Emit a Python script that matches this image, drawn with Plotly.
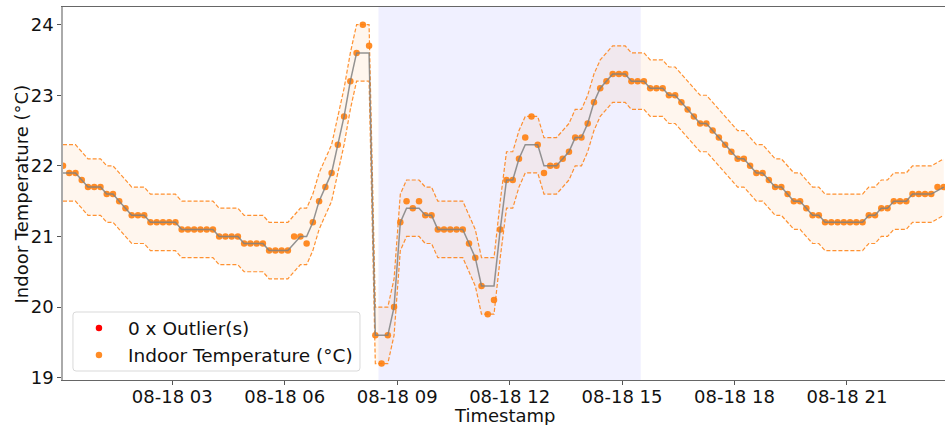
import pandas as pd
import plotly.graph_objects as go

# Indoor temperature readings on 18 Aug, one every 10 minutes from 00:05
start_time = "2024-08-18 00:05"
step_minutes = 10
temperature = [
    22.0, 21.9, 21.9, 21.8, 21.7, 21.7, 21.7, 21.6, 21.6, 21.5,
    21.4, 21.3, 21.3, 21.3, 21.2, 21.2, 21.2, 21.2, 21.2, 21.1,
    21.1, 21.1, 21.1, 21.1, 21.1, 21.0, 21.0, 21.0, 21.0, 20.9,
    20.9, 20.9, 20.9, 20.8, 20.8, 20.8, 20.8, 21.0, 21.0, 20.9,
    21.2, 21.5, 21.7, 21.9, 22.3, 22.7, 23.2, 23.6, 24.0, 23.7,
    19.6, 19.2, 19.6, 20.0, 21.2, 21.5, 21.4, 21.5, 21.3, 21.3,
    21.1, 21.1, 21.1, 21.1, 21.1, 20.9, 20.7, 20.3, 19.9, 20.1,
    21.1, 21.8, 21.8, 22.1, 22.4, 22.7, 22.3, 21.9, 22.0, 22.0,
    22.1, 22.2, 22.4, 22.4, 22.6, 22.9, 23.1, 23.2, 23.3, 23.3,
    23.3, 23.2, 23.2, 23.2, 23.1, 23.1, 23.1, 23.0, 23.0, 22.9,
    22.8, 22.7, 22.6, 22.6, 22.5, 22.4, 22.3, 22.2, 22.1, 22.1,
    22.0, 21.9, 21.9, 21.8, 21.7, 21.7, 21.6, 21.5, 21.5, 21.4,
    21.3, 21.3, 21.2, 21.2, 21.2, 21.2, 21.2, 21.2, 21.2, 21.3,
    21.3, 21.4, 21.4, 21.5, 21.5, 21.5, 21.6, 21.6, 21.6, 21.6,
    21.7, 21.7,
]

# Outlier detection settings: centred rolling median with a fixed tolerance
window = 5
tolerance = 0.4

# Highlighted period of the day
span_start = "2024-08-18 08:30"
span_end = "2024-08-18 15:30"

tick_times = ["2024-08-18 03:00", "2024-08-18 06:00", "2024-08-18 09:00",
              "2024-08-18 12:00", "2024-08-18 15:00", "2024-08-18 18:00",
              "2024-08-18 21:00"]
tick_labels = ["08-18 03", "08-18 06", "08-18 09", "08-18 12",
               "08-18 15", "08-18 18", "08-18 21"]

series = pd.Series(
    temperature,
    index=pd.date_range(start_time, periods=len(temperature),
                        freq=f"{step_minutes}min"),
)
median = series.rolling(window, center=True, min_periods=1).median()
upper = median + tolerance
lower = median - tolerance
outliers = series[(series > upper + 1e-9) | (series < lower - 1e-9)]

ORANGE = "#ff7f0e"
FONT = "DejaVu Sans"
FS = 18

fig = go.Figure()

fig.add_trace(go.Scatter(
    x=series.index, y=lower, mode="lines",
    line=dict(color="rgba(255,127,14,0.85)", width=1.2, dash="4px,2px"),
    showlegend=False, hoverinfo="skip",
))
fig.add_trace(go.Scatter(
    x=series.index, y=upper, mode="lines", fill="tonexty",
    fillcolor="rgba(255,127,14,0.07)",
    line=dict(color="rgba(255,127,14,0.85)", width=1.2, dash="4px,2px"),
    showlegend=False, hoverinfo="skip",
))
fig.add_trace(go.Scatter(
    x=series.index, y=series.values, mode="markers",
    marker=dict(color=ORANGE, size=6.5, opacity=0.9),
    name="Indoor Temperature (°C)", legendrank=2, legendgroup="values",
))
fig.add_trace(go.Scatter(
    x=series.index, y=median, mode="lines",
    line=dict(color="rgba(128,128,128,0.85)", width=1.5),
    showlegend=False,
))
fig.add_trace(go.Scatter(
    x=list(outliers.index) if len(outliers) else [None],
    y=list(outliers.values) if len(outliers) else [None],
    mode="markers", marker=dict(color="red", size=6.5),
    name=f"{len(outliers)} x Outlier(s)", legendrank=1, legendgroup="out",
))

# Tick marks drawn as minor ticks (a hair off the labelled times) so the
# labels can sit right under the axis line
tick_marks = [(pd.Timestamp(t) + pd.Timedelta(seconds=1)).isoformat()
              for t in tick_times]

# Rounded frame behind the legend entries (paper coordinates)
bx0, bx1, by0, by1 = 0.0113, 0.3367, 0.0241, 0.1823
rx, ry = 0.0035, 0.008
frame_path = (
    f"M {bx0+rx},{by0} L {bx1-rx},{by0} Q {bx1},{by0} {bx1},{by0+ry} "
    f"L {bx1},{by1-ry} Q {bx1},{by1} {bx1-rx},{by1} "
    f"L {bx0+rx},{by1} Q {bx0},{by1} {bx0},{by1-ry} "
    f"L {bx0},{by0+ry} Q {bx0},{by0} {bx0+rx},{by0} Z"
)

fig.update_layout(
    width=945, height=425,
    margin=dict(l=63, r=0, t=7, b=45),
    paper_bgcolor="white", plot_bgcolor="white",
    font=dict(family=FONT, size=FS, color="#111"),
    legend=dict(
        x=0.0079, y=0.0147, xanchor="left", yanchor="bottom",
        bgcolor="rgba(0,0,0,0)", borderwidth=0, font=dict(size=18.5),
        traceorder="normal", tracegroupgap=1, itemwidth=48,
    ),
    annotations=[
        dict(text="Timestamp", xref="paper", yref="paper",
             x=0.5, y=-0.0955, xanchor="center", yanchor="middle",
             showarrow=False, font=dict(size=FS)),
        dict(text="Indoor Temperature (°C)", xref="paper", yref="paper",
             x=-0.0465, y=0.5, xanchor="center", yanchor="middle",
             textangle=-90, showarrow=False, font=dict(size=FS)),
    ],
)

fig.add_vrect(x0=span_start, x1=span_end, fillcolor="rgba(0,0,255,0.06)",
              line_width=0, layer="below")
fig.add_shape(type="path", path=frame_path, xref="paper", yref="paper",
              fillcolor="rgba(255,255,255,0.8)",
              line=dict(color="#d9d9d9", width=1), layer="above")

fig.update_xaxes(
    range=["2024-08-18 00:05", "2024-08-18 23:37"],
    tickvals=tick_times, ticktext=tick_labels,
    ticks="", tickfont=dict(size=FS),
    minor=dict(tickmode="array", tickvals=tick_marks, ticks="outside",
               ticklen=4, tickcolor="#555", showgrid=False),
    showgrid=False, zeroline=False,
    showline=True, linecolor="#666", linewidth=1, mirror=True,
)
fig.update_yaxes(
    range=[18.967, 24.25],
    tickvals=[19, 20, 21, 22, 23, 24],
    ticks="outside", ticklen=4, tickcolor="#555",
    tickfont=dict(size=FS),
    showgrid=False, zeroline=False,
    showline=True, linecolor="#aaaaaa", linewidth=1.5,
)

fig.write_html("out.html")
